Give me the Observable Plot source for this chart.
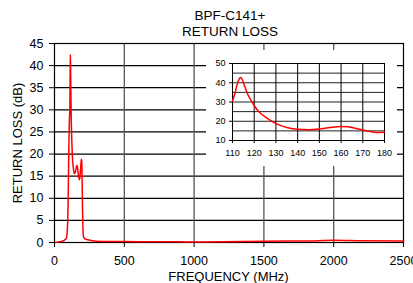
<!DOCTYPE html>
<html><head><meta charset="utf-8">
<script src="https://cdn.jsdelivr.net/npm/d3@7"></script>
<script src="https://cdn.jsdelivr.net/npm/@observablehq/plot@0.6"></script>
<style>
html,body{margin:0;padding:0;background:#fff;}
#wrap{position:relative;width:413px;height:283px;overflow:hidden;font-family:"Liberation Sans",Arial,sans-serif;}
.t{position:absolute;left:0;width:460px;text-align:center;font-size:13.5px;color:#000;}
#main{position:absolute;left:0;top:0;}
#xl{position:absolute;left:0;width:457px;top:269px;text-align:center;font-size:13px;}
#yl{position:absolute;left:17px;top:143px;font-size:13px;white-space:nowrap;transform:translate(-50%,-50%) rotate(-90deg);}
</style></head><body>
<div id="wrap">
<div id="main"></div>
<div class="t" style="top:8px">BPF-C141+</div>
<div class="t" style="top:24px">RETURN LOSS</div>
<div id="xl">FREQUENCY (MHz)</div>
<div id="yl">RETURN LOSS (dB)</div>
</div>
<script>
const title = ["BPF-C141+", "RETURN LOSS"];
// Main curve: frequency (MHz) vs return loss (dB)
const freqMain = [0, 40, 70, 85, 92, 97, 100, 104, 107, 110, 112, 113.5, 115, 117, 120, 125, 130, 135, 140, 145, 150, 155, 160, 165, 170, 175, 179, 184, 188, 192, 195, 198, 201, 204, 207, 212, 220, 240, 270, 300, 400, 500, 700, 900, 1000, 1200, 1500, 1800, 2000, 2200, 2500];
const rlMain   = [0, 0.2, 0.5, 1, 3, 8, 15, 24, 28, 30, 38, 42.5, 40, 35, 28, 22, 18.5, 16.8, 15.8, 15.6, 16, 16.8, 17.4, 17, 15.5, 14.6, 14.2, 15.5, 17, 18.8, 18.5, 14, 7, 3, 1.5, 1, 0.8, 0.6, 0.4, 0.3, 0.2, 0.2, 0.15, 0.15, 0.1, 0.15, 0.3, 0.35, 0.5, 0.4, 0.35];
// Inset curve (zoom 110–180 MHz)
const freqInset = [110, 111, 112, 113, 113.7, 114.5, 115.5, 117, 119, 121, 123, 126, 130, 135, 140, 145, 150, 155, 160, 163, 166, 170, 174, 177, 180];
const rlInset   = [30.5, 34, 38.5, 41.8, 42.7, 41.8, 38.5, 34, 30, 26.5, 24, 21.5, 18.8, 16.8, 15.8, 15.6, 16, 16.8, 17.3, 17.2, 16.5, 15.5, 14.6, 14.1, 14.3];
const xTicksMain = [0, 500, 1000, 1500, 2000, 2500];
const yTicksMain = [0, 5, 10, 15, 20, 25, 30, 35, 40, 45];
const xGridMain = [500, 1000, 1500, 2000];
const yGridMain = [5, 10, 15, 20, 25, 30, 35, 40];
const xTicksInset = [110, 120, 130, 140, 150, 160, 170, 180];
const yTicksInset = [10, 20, 30, 40, 50];
const yGridInset = [15, 20, 25, 30, 35, 40, 45];
const xGridInset = [120, 130, 140, 150, 160, 170];

const mainData = freqMain.map((f, i) => ({f, v: rlMain[i]}));
const insetData = freqInset.map((f, i) => ({f, v: rlInset[i]}));
const fmt = d3.format("d");

const main = Plot.plot({
  width: 413, height: 283,
  marginLeft: 54, marginRight: 10, marginTop: 43, marginBottom: 41,
  style: {fontFamily: "Liberation Sans, Arial, sans-serif", fontSize: "12.5px", background: "transparent", color: "#000"},
  x: {domain: [0, 2500], ticks: xTicksMain, tickFormat: fmt},
  y: {domain: [0, 45], ticks: yTicksMain, tickFormat: fmt},
  marks: [
    Plot.ruleY(yGridMain, {stroke: "#000", strokeWidth: 1.2}),
    Plot.ruleX(xGridMain, {stroke: "#555", strokeWidth: 1.3}),
    Plot.frame({stroke: "#000", strokeWidth: 1.2}),
    Plot.line(mainData, {x: "f", y: "v", stroke: "#ff0000", strokeWidth: 1.5, curve: "monotone-x"}),
    Plot.axisX({ticks: xTicksMain, tickFormat: fmt, tickSize: 5, tickPadding: 9, label: null, fontSize: "12.5px"}),
    Plot.axisY({ticks: yTicksMain, tickFormat: fmt, tickSize: 5, tickPadding: 6, label: null, fontSize: "12.5px"})
  ]
});
document.getElementById("main").appendChild(main);

const inset = Plot.plot({
  width: 191, height: 116,
  marginLeft: 26, marginRight: 13, marginTop: 13, marginBottom: 26,
  style: {fontFamily: "Liberation Sans, Arial, sans-serif", fontSize: "9px", background: "#fff", color: "#000"},
  x: {domain: [110, 180], ticks: xTicksInset, tickFormat: fmt},
  y: {domain: [10, 50], ticks: yTicksInset, tickFormat: fmt},
  marks: [
    Plot.ruleY(yGridInset, {stroke: "#222", strokeWidth: 1}),
    Plot.ruleX(xGridInset, {stroke: "#000", strokeWidth: 1}),
    Plot.frame({stroke: "#000", strokeWidth: 1}),
    Plot.line(insetData, {x: "f", y: "v", stroke: "#ff0000", strokeWidth: 1.5, curve: "monotone-x"}),
    Plot.axisX({ticks: xTicksInset, tickFormat: fmt, tickSize: 3, tickPadding: 6, label: null, fontSize: "9px"}),
    Plot.axisY({anchor: "left", ticks: yTicksInset, tickFormat: fmt, tickSize: 3, tickPadding: 4, label: null, fontSize: "9px"})
  ]
});
// nest the inset inside the main SVG, on a white panel
const ns = "http://www.w3.org/2000/svg";
const bg = document.createElementNS(ns, "rect");
bg.setAttribute("width", 191);
bg.setAttribute("height", 116);
bg.setAttribute("fill", "#fff");
inset.insertBefore(bg, inset.firstChild);
inset.setAttribute("x", 206);
inset.setAttribute("y", 50);
inset.setAttribute("preserveAspectRatio", "xMinYMin meet");
inset.style.width = "191px";
inset.style.height = "116px";
inset.style.maxWidth = "none";
inset.style.overflow = "visible";
main.appendChild(inset);
</script>
</body></html>
